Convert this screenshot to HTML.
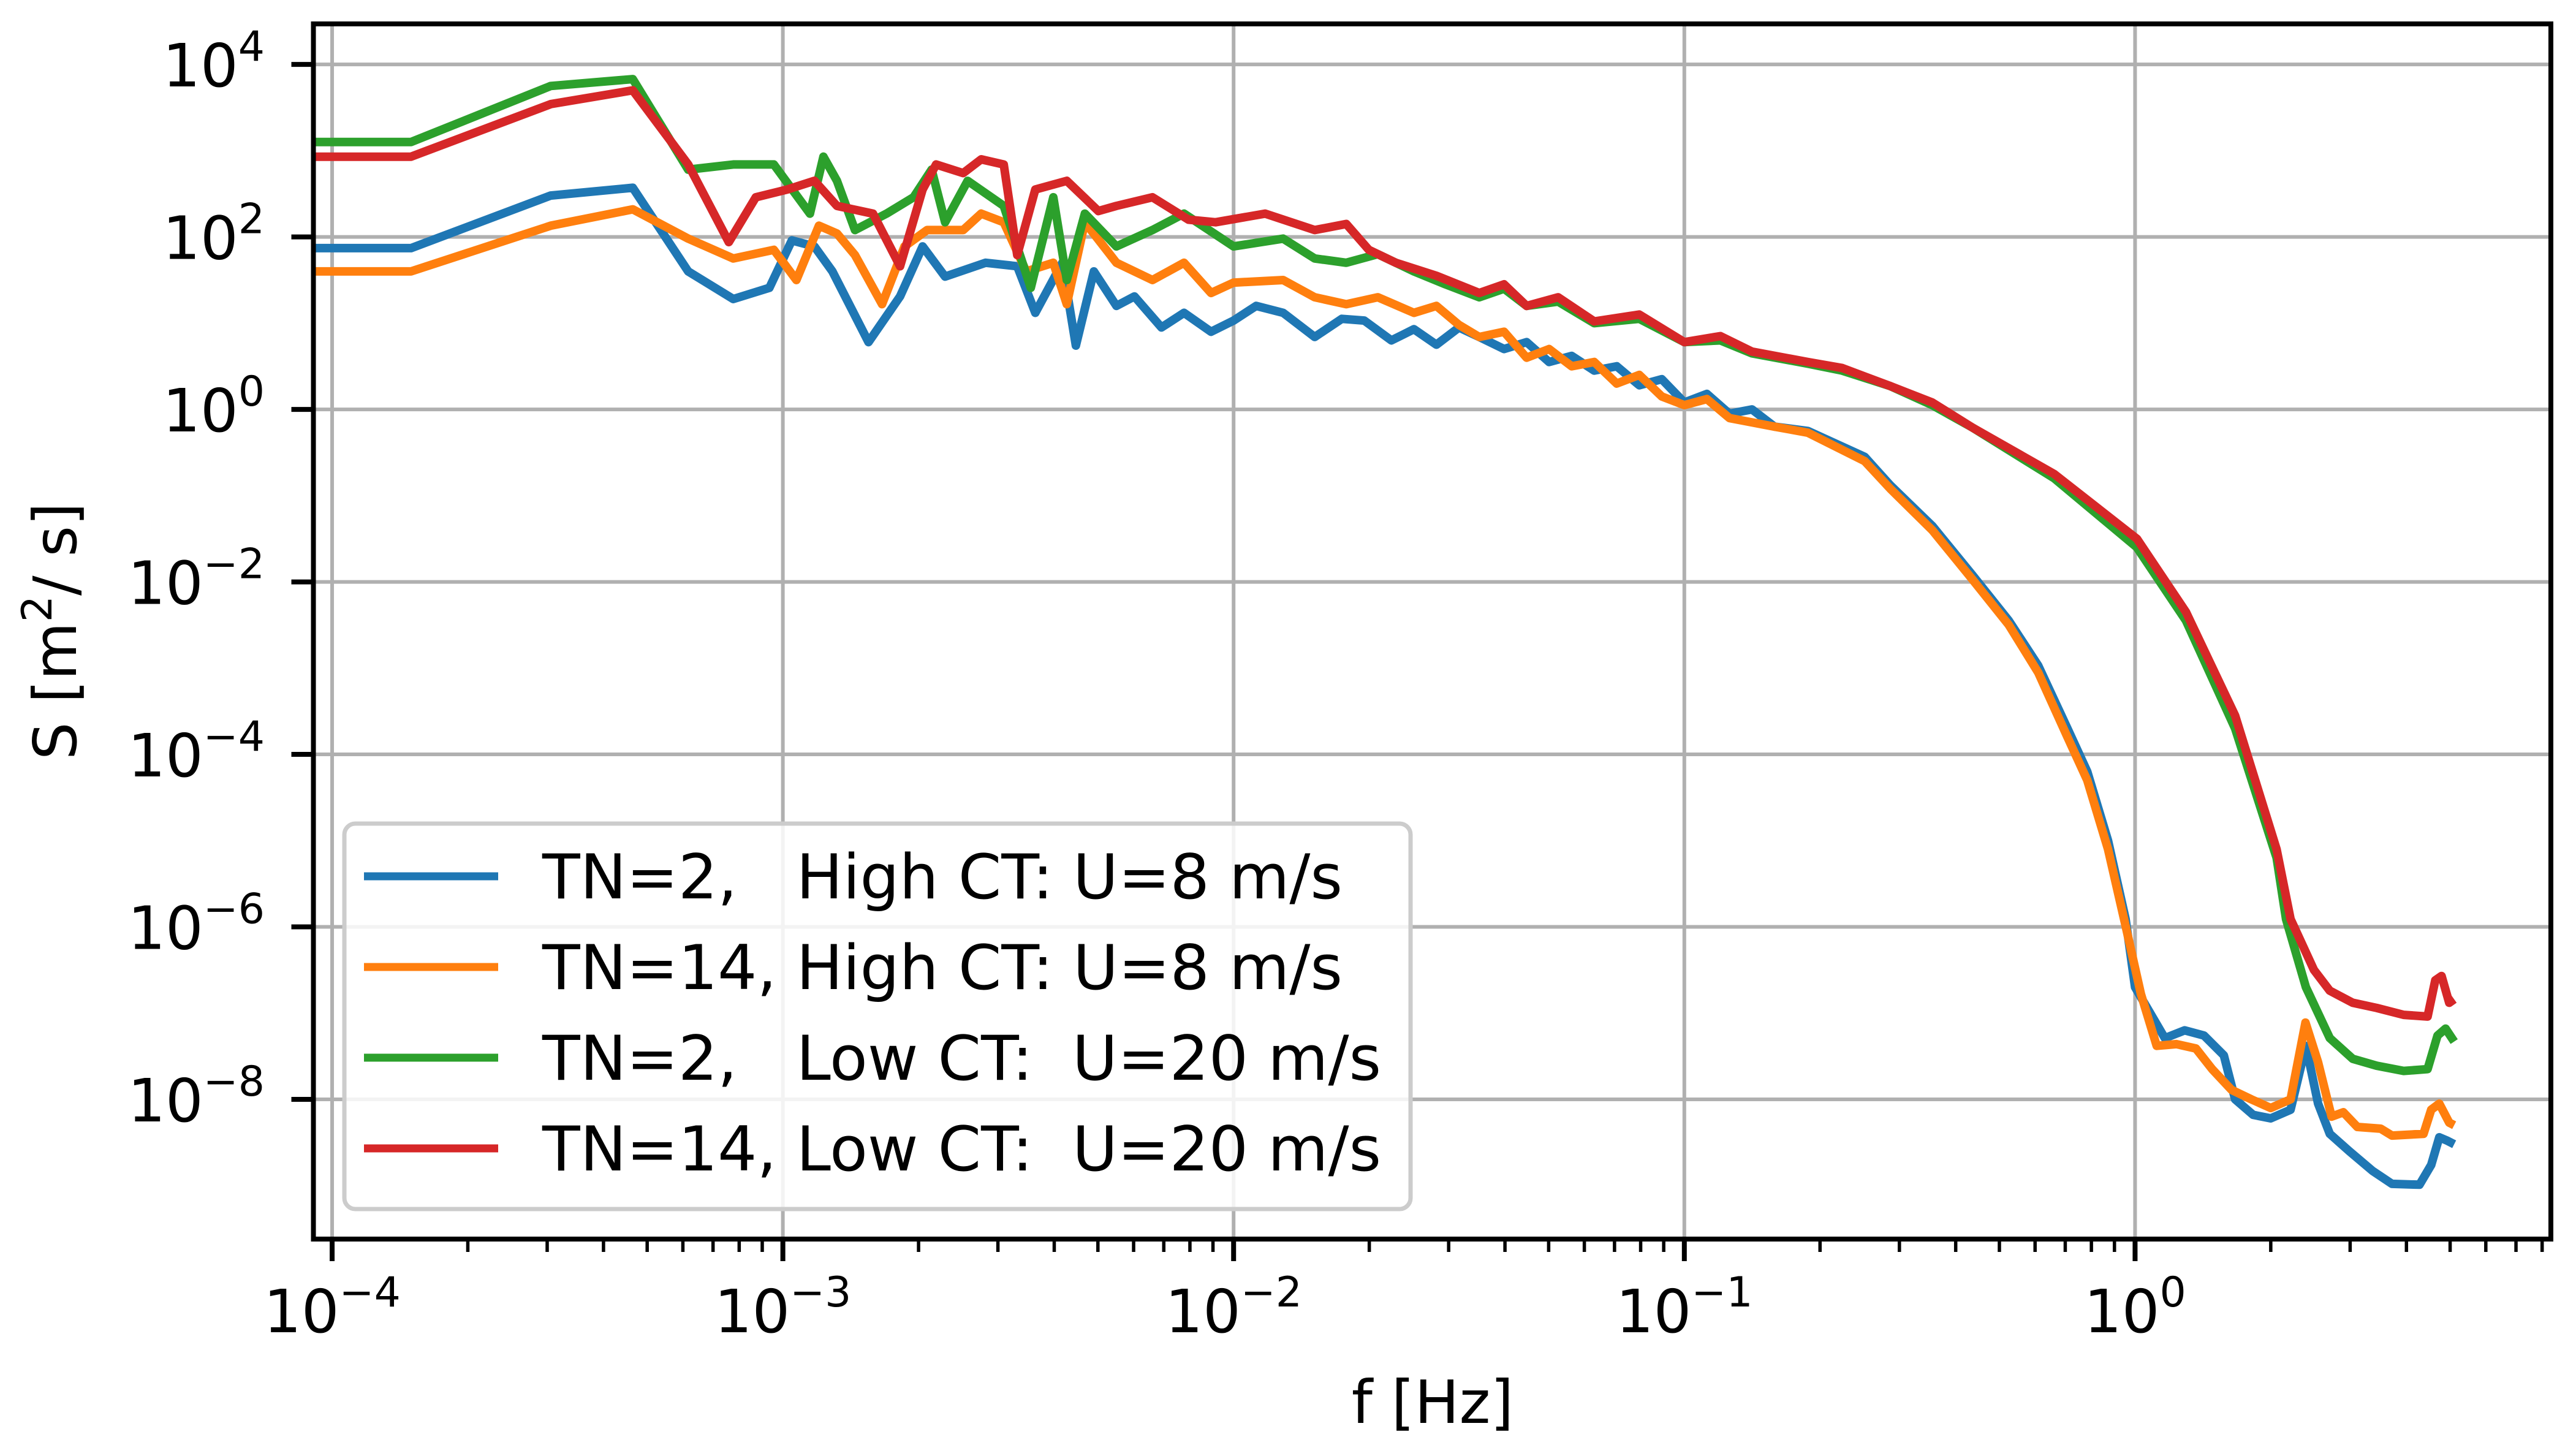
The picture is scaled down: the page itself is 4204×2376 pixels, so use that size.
<!DOCTYPE html>
<html><head><meta charset="utf-8"><style>
html,body{margin:0;padding:0;background:#fff}
svg text{font-family:"DejaVu Sans","Liberation Sans",sans-serif;white-space:pre}
</style></head><body>
<svg id="chart" xmlns="http://www.w3.org/2000/svg" width="4204" height="2371" viewBox="0 0 4204 2371">
<rect width="4204" height="2371" fill="#fff"/>
<g id="grid"></g><g id="series"></g><g id="axes"></g><g id="legend"></g>
</svg>
<script>
// data: log10(f) and log10(S)
const blueX=[-4.04,-3.825,-3.515,-3.333,-3.21,-3.11,-3.03,-2.98,-2.93,-2.89,-2.81,-2.74,-2.69,-2.64,-2.55,-2.48,-2.44,-2.38,-2.35,-2.31,-2.26,-2.22,-2.16,-2.11,-2.05,-2.0,-1.95,-1.89,-1.82,-1.76,-1.71,-1.65,-1.6,-1.55,-1.5,-1.455,-1.4,-1.35,-1.3,-1.25,-1.2,-1.15,-1.1,-1.05,-1.0,-0.95,-0.9,-0.85,-0.8,-0.726,-0.6,-0.543,-0.45,-0.361,-0.28,-0.215,-0.15,-0.106,-0.06,-0.021,0.0,0.066,0.11,0.153,0.197,0.222,0.262,0.301,0.345,0.379,0.406,0.432,0.475,0.527,0.57,0.631,0.657,0.675,0.693,0.708];
const blueY=[1.87,1.87,2.48,2.57,1.6,1.28,1.41,1.96,1.89,1.6,0.78,1.31,1.89,1.54,1.7,1.66,1.12,1.7,0.74,1.6,1.2,1.31,0.95,1.12,0.9,1.03,1.2,1.12,0.84,1.05,1.03,0.8,0.93,0.75,0.95,0.84,0.7,0.78,0.55,0.62,0.45,0.5,0.28,0.35,0.08,0.18,-0.05,0.0,-0.2,-0.25,-0.55,-0.88,-1.35,-1.92,-2.45,-2.97,-3.7,-4.2,-5.0,-5.91,-6.7,-7.29,-7.2,-7.26,-7.49,-8.0,-8.18,-8.22,-8.12,-7.38,-8.05,-8.4,-8.6,-8.83,-8.98,-8.99,-8.76,-8.44,-8.48,-8.52];
const orangeX=[-4.04,-3.825,-3.515,-3.333,-3.21,-3.11,-3.02,-2.97,-2.92,-2.88,-2.84,-2.78,-2.73,-2.68,-2.6,-2.56,-2.51,-2.46,-2.4,-2.37,-2.33,-2.26,-2.18,-2.11,-2.05,-2.0,-1.89,-1.82,-1.75,-1.68,-1.6,-1.55,-1.5,-1.455,-1.4,-1.35,-1.3,-1.25,-1.2,-1.15,-1.1,-1.05,-1.0,-0.95,-0.9,-0.8,-0.726,-0.6,-0.543,-0.45,-0.361,-0.28,-0.215,-0.15,-0.106,-0.06,-0.021,0.013,0.048,0.092,0.135,0.171,0.214,0.258,0.301,0.345,0.378,0.406,0.436,0.462,0.493,0.545,0.57,0.64,0.657,0.675,0.697,0.708];
const orangeY=[1.6,1.6,2.13,2.32,1.98,1.75,1.85,1.5,2.13,2.04,1.79,1.22,1.89,2.08,2.08,2.27,2.17,1.6,1.7,1.22,2.17,1.7,1.5,1.7,1.35,1.47,1.5,1.3,1.22,1.3,1.12,1.2,0.98,0.84,0.9,0.6,0.7,0.5,0.55,0.3,0.4,0.15,0.05,0.12,-0.1,-0.2,-0.27,-0.6,-0.92,-1.4,-1.97,-2.5,-3.05,-3.8,-4.3,-5.1,-5.99,-6.78,-7.38,-7.36,-7.41,-7.65,-7.89,-8.0,-8.1,-8.0,-7.11,-7.57,-8.2,-8.15,-8.32,-8.34,-8.42,-8.4,-8.12,-8.05,-8.27,-8.3];
const greenX=[-4.04,-3.825,-3.515,-3.333,-3.21,-3.11,-3.02,-2.94,-2.91,-2.88,-2.84,-2.77,-2.71,-2.67,-2.64,-2.59,-2.51,-2.45,-2.4,-2.37,-2.33,-2.26,-2.18,-2.11,-2.0,-1.89,-1.82,-1.75,-1.68,-1.6,-1.53,-1.455,-1.4,-1.35,-1.28,-1.2,-1.1,-1.0,-0.92,-0.85,-0.726,-0.65,-0.543,-0.45,-0.361,-0.179,0.004,0.113,0.222,0.314,0.335,0.379,0.432,0.483,0.536,0.596,0.649,0.671,0.689,0.708];
const greenY=[3.1,3.1,3.75,3.83,2.78,2.84,2.84,2.27,2.93,2.65,2.08,2.27,2.46,2.78,2.17,2.65,2.36,1.41,2.46,1.5,2.27,1.89,2.08,2.27,1.89,1.98,1.75,1.7,1.8,1.6,1.45,1.3,1.4,1.2,1.25,1.0,1.05,0.78,0.8,0.65,0.53,0.45,0.27,0.05,-0.21,-0.8,-1.6,-2.45,-3.7,-5.2,-5.91,-6.7,-7.29,-7.53,-7.61,-7.67,-7.65,-7.26,-7.18,-7.33];
const redX=[-4.04,-3.825,-3.515,-3.333,-3.21,-3.12,-3.06,-2.99,-2.93,-2.88,-2.8,-2.74,-2.69,-2.66,-2.6,-2.56,-2.51,-2.48,-2.44,-2.37,-2.3,-2.26,-2.18,-2.1,-2.04,-1.93,-1.82,-1.75,-1.7,-1.64,-1.55,-1.455,-1.4,-1.35,-1.28,-1.2,-1.1,-1.0,-0.92,-0.85,-0.726,-0.65,-0.543,-0.45,-0.361,-0.179,0.004,0.113,0.222,0.314,0.345,0.397,0.432,0.483,0.536,0.596,0.649,0.666,0.68,0.697,0.708];
const redY=[2.93,2.93,3.54,3.7,2.84,1.94,2.46,2.55,2.65,2.36,2.27,1.66,2.55,2.84,2.74,2.9,2.84,1.79,2.55,2.65,2.3,2.36,2.46,2.2,2.17,2.27,2.08,2.15,1.85,1.7,1.55,1.35,1.45,1.2,1.3,1.02,1.1,0.78,0.85,0.67,0.55,0.48,0.27,0.08,-0.21,-0.75,-1.5,-2.35,-3.55,-5.1,-5.91,-6.5,-6.74,-6.88,-6.94,-7.02,-7.04,-6.62,-6.57,-6.88,-6.84];
const xTickExps=[-4,-3,-2,-1,0];
const yTickExps=[4,2,0,-2,-4,-6,-8];
const legendLabels=["TN=2,   High CT: U=8 m/s","TN=14, High CT: U=8 m/s","TN=2,   Low CT:  U=20 m/s","TN=14, Low CT:  U=20 m/s"];
const colors=["#1f77b4","#ff7f0e","#2ca02c","#d62728"];

const NS="http://www.w3.org/2000/svg";
const L=511.5,R=4163,T=39,B=2022;
const xmin=-4.0415,xmax=0.9225,ymin=-9.62,ymax=4.47;
function sx(v){return L+(v-xmin)/(xmax-xmin)*(R-L);}
function sy(v){return B-(v-ymin)/(ymax-ymin)*(B-T);}
function mk(tag,attrs,parent){const e=document.createElementNS(NS,tag);for(const k in attrs)e.setAttribute(k,attrs[k]);parent.appendChild(e);return e;}
const grid=document.getElementById('grid'),axes=document.getElementById('axes'),ser=document.getElementById('series'),leg=document.getElementById('legend');

xTickExps.forEach(ex=>{
  const x=sx(ex);
  const g=mk('line',{x1:x,x2:x,y1:T,y2:B,stroke:'#b0b0b0','stroke-width':6},grid);
  
  
  const t=mk('line',{x1:x,x2:x,y1:B,y2:B+36,stroke:'#000','stroke-width':8},axes);
  
  
  const tx=mk('text',{x:x,y:2174,'text-anchor':'middle','font-size':97,fill:'#000'},axes);
  
  
  tx.appendChild(document.createTextNode('10'));
  const sp=mk('tspan',{dy:-42,'font-size':68},tx);
  sp.textContent=(ex<0?'\u2212'+(-ex):''+ex);
});
for(let d=-4;d<=0;d++){for(let m=2;m<=9;m++){const v=d+Math.log10(m);if(v>xmax)continue;
  const x=sx(v);
  const t=mk('line',{x1:x,x2:x,y1:B,y2:B+21,stroke:'#000','stroke-width':5.5},axes);
  
  
}}
yTickExps.forEach(ex=>{
  const y=sy(ex);
  const g=mk('line',{x1:L,x2:R,y1:y,y2:y,stroke:'#b0b0b0','stroke-width':6},grid);
  
  
  const t=mk('line',{x1:L-36,x2:L,y1:y,y2:y,stroke:'#000','stroke-width':8},axes);
  
  
  const tx=mk('text',{x:432,y:y+36,'text-anchor':'end','font-size':97,fill:'#000'},axes);
  
  
  tx.appendChild(document.createTextNode('10'));
  const sp=mk('tspan',{dy:-42,'font-size':68},tx);
  sp.textContent=(ex<0?'\u2212'+(-ex):''+ex);
});
const seriesX=[blueX,orangeX,greenX,redX],seriesY=[blueY,orangeY,greenY,redY];
const names=['series-tn2-high-ct','series-tn14-high-ct','series-tn2-low-ct','series-tn14-low-ct'];
const clip=mk('clipPath',{id:'pc'},ser);mk('rect',{x:L,y:T,width:R-L,height:B-T},clip);
seriesX.forEach((xs,i)=>{
  const pts=xs.map((v,j)=>sx(v).toFixed(1)+','+sy(seriesY[i][j]).toFixed(1)).join(' ');
  const p=mk('polyline',{points:pts,fill:'none',stroke:colors[i],'stroke-width':14,'stroke-linejoin':'round','clip-path':'url(#pc)'},ser);
  
  
});
const fr=mk('rect',{x:L,y:T,width:R-L,height:B-T,fill:'none',stroke:'#000','stroke-width':8},axes);


const xl=mk('text',{x:2338,y:2322,'text-anchor':'middle','font-size':97,fill:'#000'},axes);


xl.textContent='f [Hz]';
const yl=mk('text',{x:0,y:0,'text-anchor':'middle','font-size':97,fill:'#000',transform:'translate(124,1030) rotate(-90)'},axes);


yl.appendChild(document.createTextNode('S [m'));
const ys=mk('tspan',{dy:-40,'font-size':68},yl);ys.textContent='2';
const ye=mk('tspan',{dy:40},yl);ye.textContent='/ s]';
const lb=mk('rect',{x:562,y:1344,width:1740,height:629,rx:18,fill:'#fff','fill-opacity':0.85,stroke:'#cccccc','stroke-width':7},leg);


legendLabels.forEach((s,i)=>{
  const y=1430+i*148;
  const ln=mk('line',{x1:594,x2:813,y1:y,y2:y,stroke:colors[i],'stroke-width':13},leg);
  
  
  const t=mk('text',{x:885,y:y+36,'font-size':101,fill:'#000'},leg);
  
  
  t.textContent=s;
});
</script>
</body></html>
